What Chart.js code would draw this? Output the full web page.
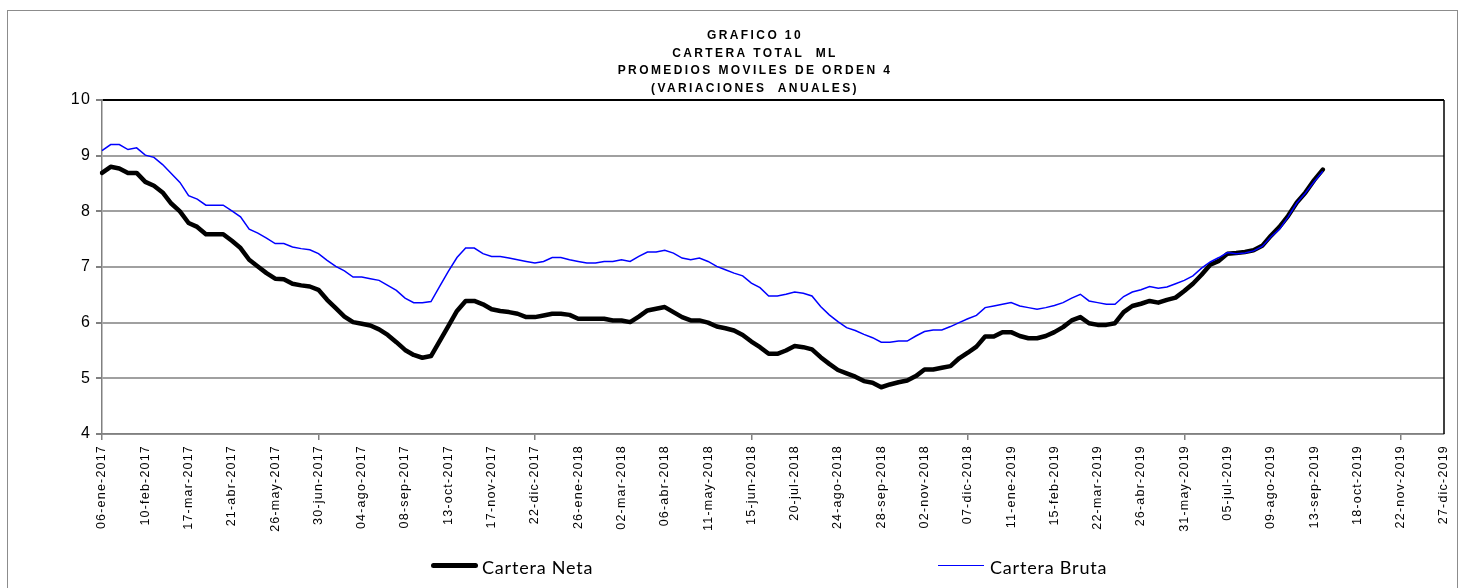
<!DOCTYPE html>
<html>
<head>
<meta charset="utf-8">
<script src="https://cdn.jsdelivr.net/npm/chart.js@4.4.1/dist/chart.umd.min.js"></script>
<style>
html,body{margin:0;padding:0;background:#fff;width:1464px;height:588px;overflow:hidden;}
#frame{position:absolute;left:7px;top:10px;width:1451px;height:610px;border:1.5px solid #8c8c8c;box-sizing:border-box;}
#c{position:absolute;left:0;top:0;}
#title{position:absolute;left:505px;width:500px;top:27px;text-align:center;font-family:"Liberation Sans",Arial,sans-serif;font-weight:bold;font-size:12px;letter-spacing:2.4px;line-height:17.6px;color:#000;white-space:nowrap;}
.lg{position:absolute;font-family:Lato,"Liberation Sans",sans-serif;font-size:18px;letter-spacing:0.8px;line-height:20px;color:#000;top:557px;white-space:nowrap;}
.ln{position:absolute;}
</style>
</head>
<body>
<div id="frame"></div>
<canvas id="c" width="1464" height="588"></canvas>
<div id="title"></div>
<div class="ln" id="l1" style="left:431px;top:562.5px;width:47px;height:5px;background:#000;border-radius:2.5px;"></div>
<div class="lg" id="t1" style="left:482px;"></div>
<div class="ln" id="l2" style="left:938px;top:564.5px;width:46px;height:1.5px;background:#0000ff;"></div>
<div class="lg" id="t2" style="left:990px;"></div>
<script>
const titleLines = ["GRAFICO 10", "CARTERA TOTAL  ML", "PROMEDIOS MOVILES DE ORDEN 4", "(VARIACIONES  ANUALES)"];
const seriesNames = ["Cartera Neta", "Cartera Bruta"];

const tickLabels = ["06-ene-2017","10-feb-2017","17-mar-2017","21-abr-2017","26-may-2017","30-jun-2017","04-ago-2017","08-sep-2017","13-oct-2017","17-nov-2017","22-dic-2017","26-ene-2018","02-mar-2018","06-abr-2018","11-may-2018","15-jun-2018","20-jul-2018","24-ago-2018","28-sep-2018","02-nov-2018","07-dic-2018","11-ene-2019","15-feb-2019","22-mar-2019","26-abr-2019","31-may-2019","05-jul-2019","09-ago-2019","13-sep-2019","18-oct-2019","22-nov-2019","27-dic-2019"];

const netaValues = [8.69,8.80,8.77,8.69,8.69,8.53,8.46,8.34,8.14,8.00,
7.79,7.72,7.59,7.59,7.59,7.47,7.34,7.13,7.01,6.89,
6.79,6.78,6.70,6.67,6.65,6.59,6.41,6.26,6.11,6.01,
5.98,5.95,5.88,5.78,5.65,5.51,5.42,5.37,5.40,5.67,
5.94,6.21,6.39,6.39,6.33,6.24,6.21,6.19,6.16,6.10,
6.10,6.13,6.16,6.16,6.14,6.07,6.07,6.07,6.07,6.04,
6.04,6.01,6.11,6.22,6.25,6.28,6.19,6.10,6.04,6.04,
6.00,5.93,5.90,5.86,5.78,5.66,5.56,5.44,5.44,5.50,
5.58,5.56,5.52,5.38,5.26,5.15,5.09,5.03,4.95,4.92,
4.84,4.89,4.93,4.96,5.04,5.16,5.16,5.19,5.22,5.36,
5.46,5.57,5.75,5.75,5.83,5.83,5.76,5.72,5.72,5.76,
5.83,5.92,6.04,6.10,5.99,5.96,5.96,5.99,6.19,6.30,
6.34,6.39,6.36,6.41,6.45,6.57,6.70,6.86,7.04,7.11,
7.24,7.25,7.27,7.30,7.38,7.56,7.72,7.92,8.16,8.34,
8.56,8.75];

const brutaValues = [9.09,9.20,9.20,9.11,9.14,9.01,8.97,8.84,8.68,8.52,
8.28,8.22,8.11,8.11,8.11,8.01,7.90,7.68,7.61,7.52,
7.42,7.42,7.36,7.33,7.31,7.24,7.12,7.01,6.93,6.82,
6.82,6.79,6.76,6.67,6.58,6.44,6.36,6.36,6.38,6.65,
6.92,7.17,7.34,7.34,7.24,7.19,7.19,7.16,7.13,7.10,
7.07,7.10,7.17,7.17,7.13,7.10,7.07,7.07,7.10,7.10,
7.13,7.10,7.19,7.27,7.27,7.30,7.25,7.16,7.13,7.16,
7.10,7.01,6.95,6.89,6.84,6.71,6.63,6.48,6.48,6.51,
6.55,6.53,6.48,6.29,6.14,6.02,5.91,5.86,5.79,5.73,
5.65,5.65,5.67,5.67,5.76,5.84,5.87,5.87,5.93,6.00,
6.07,6.13,6.27,6.30,6.33,6.36,6.30,6.27,6.24,6.27,
6.31,6.36,6.44,6.51,6.39,6.36,6.33,6.33,6.47,6.55,
6.59,6.65,6.62,6.64,6.70,6.76,6.84,6.98,7.09,7.17,
7.26,7.24,7.25,7.29,7.37,7.54,7.68,7.90,8.15,8.33,
8.53,8.72];

// weekly categories (Fridays) from 06-ene-2017 to 27-dic-2019
const monthNames = ["ene","feb","mar","abr","may","jun","jul","ago","sep","oct","nov","dic"];
const categories = [];
{
  const start = Date.UTC(2017,0,6), end = Date.UTC(2019,11,27);
  for (let t = start; t <= end; t += 7*86400000) {
    const d = new Date(t);
    categories.push(String(d.getUTCDate()).padStart(2,"0") + "-" + monthNames[d.getUTCMonth()] + "-" + d.getUTCFullYear());
  }
}

document.getElementById("title").innerHTML = titleLines.map(s => s.replace(/ /g,"&nbsp;")).join("<br>");
document.getElementById("t1").textContent = seriesNames[0];
document.getElementById("t2").textContent = seriesNames[1];

const frameLines = {
  id: "frameLines",
  beforeDraw(chart) {
    if ("letterSpacing" in chart.ctx) chart.ctx.letterSpacing = "1.2px";
  },
  afterDatasetsDraw(chart) {
    const {ctx, chartArea: a} = chart;
    ctx.save();
    ctx.strokeStyle = "#000";
    ctx.lineWidth = 1.5;
    ctx.beginPath();
    ctx.moveTo(a.right, a.top);
    ctx.lineTo(a.right, a.bottom);
    ctx.stroke();
    ctx.restore();
  },
  afterDraw(chart) {
    if ("letterSpacing" in chart.ctx) chart.ctx.letterSpacing = "0px";
  }
};

new Chart(document.getElementById("c"), {
  type: "line",
  data: {
    labels: categories,
    datasets: [
      {label: seriesNames[0], data: netaValues, borderColor: "#000000", backgroundColor: "#000000", borderWidth: 4.5, pointRadius: 0, tension: 0, borderJoinStyle: "round", borderCapStyle: "round", order: 1},
      {label: seriesNames[1], data: brutaValues, borderColor: "#0000ff", backgroundColor: "#0000ff", borderWidth: 1.5, pointRadius: 0, tension: 0, order: 0}
    ]
  },
  options: {
    responsive: false,
    devicePixelRatio: 1,
    animation: false,
    events: [],
    layout: {padding: {top: 100, left: 0, right: 17, bottom: 0}},
    plugins: {legend: {display: false}, title: {display: false}, tooltip: {enabled: false}},
    scales: {
      x: {
        type: "category",
        offset: false,
        grid: {display: true, drawOnChartArea: false, drawTicks: true, tickLength: 6,
               color: ctx => (ctx.index % 5 === 0 ? "#808080" : "rgba(0,0,0,0)"), lineWidth: 1.5},
        border: {display: true, color: "#808080", width: 1.5},
        ticks: {autoSkip: false, maxRotation: 90, minRotation: 90, padding: 5, color: "#000",
                font: {family: "'Liberation Sans', Arial, sans-serif", size: 12.5},
                callback: (v, i) => (i % 5 === 0 ? tickLabels[i / 5] : null)},
        afterFit: s => { s.height = 154; }
      },
      y: {
        min: 4, max: 10,
        grid: {color: ctx => (ctx.tick && ctx.tick.value === 10 ? "#000000" : "#a0a0a0"), lineWidth: 2,
               tickLength: 6, tickColor: "#808080"},
        border: {display: true, color: "#808080", width: 1.5},
        ticks: {stepSize: 1, padding: 5, color: "#000", font: {family: "'Liberation Sans', Arial, sans-serif", size: 16}},
        afterFit: s => { s.width = 102; }
      }
    }
  },
  plugins: [frameLines]
});
</script>
</body>
</html>
